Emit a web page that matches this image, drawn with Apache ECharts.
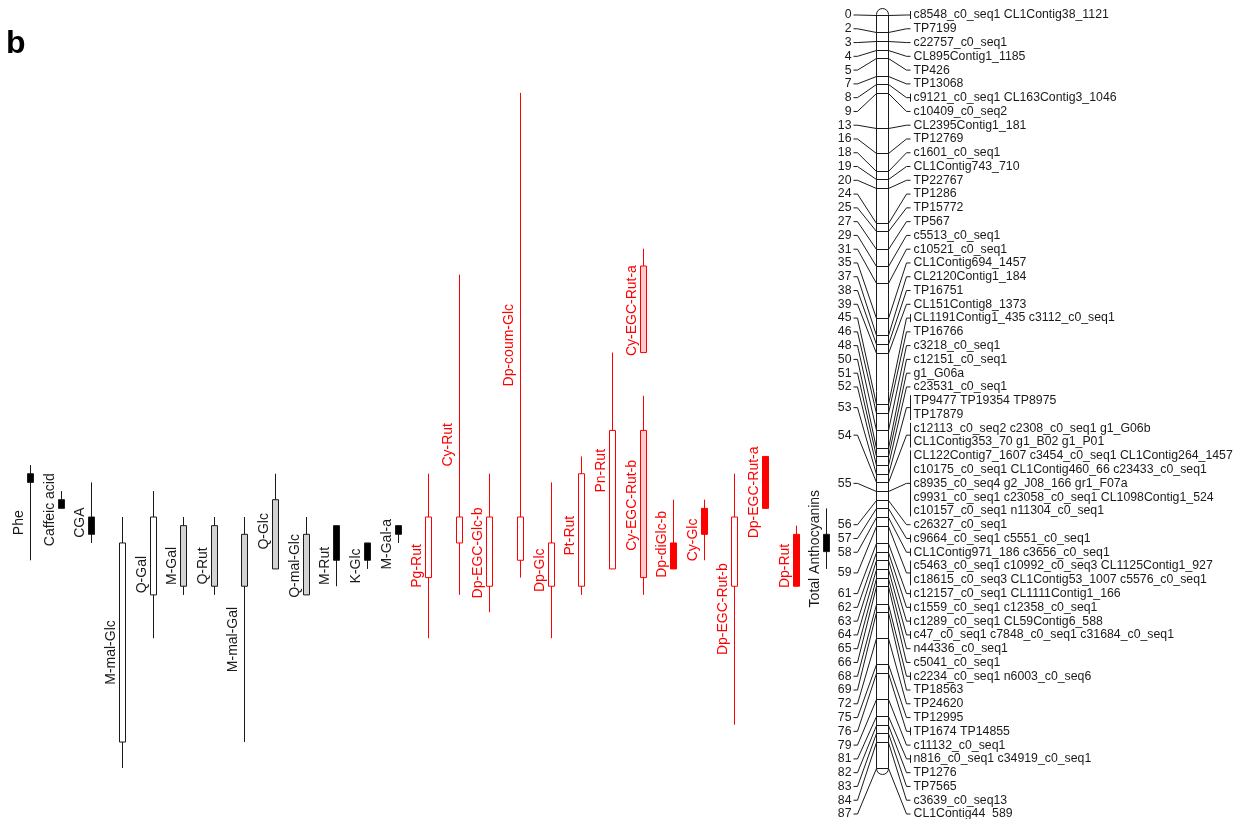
<!DOCTYPE html>
<html>
<head>
<meta charset="utf-8">
<title>QTL map</title>
<script src="https://cdn.jsdelivr.net/npm/echarts@6/dist/echarts.min.js"></script>
<style>
  html, body { margin: 0; padding: 0; background: #fff; }
  #chart { width: 1241px; height: 819px; }
</style>
</head>
<body>
<div id="chart"></div>
<script>
// ---- Linkage group: marker positions (cM) and the marker names listed at each position ----
const lociCM = [0, 2, 3, 4, 5, 7, 8, 9, 13, 16, 18, 19, 20, 24, 25, 27, 29, 31, 35, 37, 38, 39,
  45, 46, 48, 50, 51, 52, 53, 54, 55, 56, 57, 58, 59, 61, 62, 63, 64, 65, 66, 68, 69, 72, 75,
  76, 79, 81, 82, 83, 84, 87];

const lociMarkers = [
  ['c8548_c0_seq1 CL1Contig38_1121'],
  ['TP7199'],
  ['c22757_c0_seq1'],
  ['CL895Contig1_1185'],
  ['TP426'],
  ['TP13068'],
  ['c9121_c0_seq1 CL163Contig3_1046'],
  ['c10409_c0_seq2'],
  ['CL2395Contig1_181'],
  ['TP12769'],
  ['c1601_c0_seq1'],
  ['CL1Contig743_710'],
  ['TP22767'],
  ['TP1286'],
  ['TP15772'],
  ['TP567'],
  ['c5513_c0_seq1'],
  ['c10521_c0_seq1'],
  ['CL1Contig694_1457'],
  ['CL2120Contig1_184'],
  ['TP16751'],
  ['CL151Contig8_1373'],
  ['CL1191Contig1_435 c3112_c0_seq1'],
  ['TP16766'],
  ['c3218_c0_seq1'],
  ['c12151_c0_seq1'],
  ['g1_G06a'],
  ['c23531_c0_seq1'],
  ['TP9477 TP19354 TP8975', 'TP17879'],
  ['c12113_c0_seq2 c2308_c0_seq1 g1_G06b', 'CL1Contig353_70 g1_B02 g1_P01'],
  ['CL122Contig7_1607 c3454_c0_seq1 CL1Contig264_1457',
   'c10175_c0_seq1 CL1Contig460_66 c23433_c0_seq1',
   'c8935_c0_seq4 g2_J08_166 gr1_F07a',
   'c9931_c0_seq1 c23058_c0_seq1 CL1098Contig1_524',
   'c10157_c0_seq1 n11304_c0_seq1'],
  ['c26327_c0_seq1'],
  ['c9664_c0_seq1 c5551_c0_seq1'],
  ['CL1Contig971_186 c3656_c0_seq1'],
  ['c5463_c0_seq1 c10992_c0_seq3 CL1125Contig1_927',
   'c18615_c0_seq3 CL1Contig53_1007 c5576_c0_seq1'],
  ['c12157_c0_seq1 CL1111Contig1_166'],
  ['c1559_c0_seq1 c12358_c0_seq1'],
  ['c1289_c0_seq1 CL59Contig6_588'],
  ['c47_c0_seq1 c7848_c0_seq1 c31684_c0_seq1'],
  ['n44336_c0_seq1'],
  ['c5041_c0_seq1'],
  ['c2234_c0_seq1 n6003_c0_seq6'],
  ['TP18563'],
  ['TP24620'],
  ['TP12995'],
  ['TP1674 TP14855'],
  ['c11132_c0_seq1'],
  ['n816_c0_seq1 c34919_c0_seq1'],
  ['TP1276'],
  ['TP7565'],
  ['c3639_c0_seq13'],
  ['CL1Contig44_589']
];

// ---- QTL: trait names, track (column), support interval and LOD-1 interval in cM ----
const qtlNames = ['Phe', 'Caffeic acid', 'CGA', 'M-mal-Glc', 'Q-Gal', 'M-Gal', 'Q-Rut',
  'M-mal-Gal', 'Q-Glc', 'Q-mal-Glc', 'M-Rut', 'K-Glc', 'M-Gal-a', 'Pg-Rut', 'Cy-Rut',
  'Dp-EGC-Glc-b', 'Dp-coum-Glc', 'Dp-Glc', 'Pt-Rut', 'Pn-Rut', 'Cy-EGC-Rut-a', 'Cy-EGC-Rut-b',
  'Dp-diGlc-b', 'Cy-Glc', 'Dp-EGC-Rut-b', 'Dp-EGC-Rut-a', 'Dp-Rut', 'Total Anthocyanins'];
const qtlTrack = [0, 1, 2, 3, 4, 5, 6, 7, 8, 9, 10, 11, 12, 13, 14, 15, 16, 17, 18, 19, 20, 20,
  21, 22, 23, 24, 25, 26];
const qtlOuterFrom = [52, 55, 54, 58, 55, 58, 58, 58, 53, 58, 59, 61, 59, 53, 30, 53, 9, 54, 51, 39, 27, 44, 56, 56, 53, 51, 59, 57];
const qtlOuterTo   = [63, 57, 61, 87, 72, 67, 67, 84, 64, 67, 66, 64, 61, 72, 67, 69, 65, 72, 67, 64, 39, 67, 64, 63, 82, 57, 66, 64];
const qtlInnerFrom = [53, 56, 58, 61, 58, 59, 59, 60, 56, 60, 59, 61, 59, 58, 58, 58, 58, 61, 53, 48, 29, 48, 61, 57, 58, 51, 60, 60];
const qtlInnerTo   = [54, 57, 60, 84, 67, 66, 66, 66, 64, 67, 63, 63, 60, 65, 61, 66, 63, 66, 66, 64, 39, 65, 64, 60, 66, 57, 66, 62];
const qtlKind = ['black', 'black', 'black', 'white', 'white', 'gray', 'gray', 'gray', 'gray', 'gray',
  'black', 'black', 'black', 'redOpen', 'redOpen', 'redOpen', 'redOpen', 'redOpen', 'redOpen',
  'redOpen', 'pink', 'pink', 'red', 'red', 'redOpen', 'red', 'red', 'black'];

// ---- styles ----
const INK = '#1a1a1a';
const RED = '#ff0000';
const KIND_STYLE = {
  black:   { line: INK, fill: '#000000', text: INK },
  white:   { line: INK, fill: '#ffffff', text: INK },
  gray:    { line: INK, fill: '#d3d3d3', text: INK },
  redOpen: { line: RED, fill: '#ffffff', text: RED },
  pink:    { line: RED, fill: '#ffcccc', text: RED },
  red:     { line: RED, fill: RED,       text: RED }
};
const FONT = 'Arial, "Liberation Sans", sans-serif';
const NAME_SIZE = 12.3;

// ---- layout ----
const GRID_TOP = 15;
const ROWS_PX = 799;     // height of the marker-name column (first to last row)
const MAP_PX = 753;      // drawn length of the linkage group (0 to last cM)
const ROW_COUNT = lociMarkers.reduce((n, g) => n + g.length, 0);
const MAP_END = lociCM[lociCM.length - 1];
const Y_MAX = MAP_END * ROWS_PX / MAP_PX;           // cM at the bottom of the grid
const ROW_STEP = Y_MAX / (ROW_COUNT - 1);           // one name row, in cM units
const TRACK_PX = 30.63, TRACK0_PX = 30;             // column spacing
const X_MIN = -TRACK0_PX / TRACK_PX;
const X_MAX = (1241 - TRACK0_PX) / TRACK_PX;
const CHR_TRACK = 27.816;                            // column of the linkage group
const CHR_HALF = 6;

// rows of each locus group
let rowCursor = 0;
const lociData = lociCM.map((cm, i) => {
  const first = rowCursor;
  rowCursor += lociMarkers[i].length;
  return [cm, first, rowCursor - 1];
});

const qtlData = qtlNames.map((n, i) =>
  [qtlTrack[i], qtlOuterFrom[i], qtlOuterTo[i], qtlInnerFrom[i], qtlInnerTo[i]]);

function renderQtl(params, api) {
  const i = params.dataIndex;
  const s = KIND_STYLE[qtlKind[i]];
  const t = api.value(0);
  const pa = api.coord([t, api.value(1)]);
  const pb = api.coord([t, api.value(2)]);
  const pc = api.coord([t, api.value(3)]);
  const pd = api.coord([t, api.value(4)]);
  const x = Math.round(pa[0]) + 0.5;
  return {
    type: 'group',
    children: [
      { type: 'line', shape: { x1: x, y1: pa[1], x2: x, y2: pb[1] },
        style: { stroke: s.line, lineWidth: 1 } },
      { type: 'rect', shape: { x: x - 3, y: pc[1], width: 6, height: pd[1] - pc[1] },
        style: { fill: s.fill, stroke: s.line, lineWidth: 1 } },
      { type: 'text', x: x - 4, y: (pa[1] + pb[1]) / 2 + 10, rotation: Math.PI / 2,
        style: { text: qtlNames[i], fill: s.text, fontSize: 14, fontFamily: FONT,
                 align: 'center', verticalAlign: 'bottom' } }
    ]
  };
}

function renderChromosome(params, api) {
  const p0 = api.coord([api.value(0), api.value(1)]);
  const p1 = api.coord([api.value(0), api.value(2)]);
  const cx = Math.round(p0[0]) + 0.5;
  return {
    type: 'rect',
    shape: { x: cx - CHR_HALF, y: p0[1] - 6.5, width: CHR_HALF * 2, height: p1[1] - p0[1] + 13, r: CHR_HALF },
    style: { fill: '#ffffff', stroke: INK, lineWidth: 1 }
  };
}

function renderLocus(params, api) {
  const i = params.dataIndex;
  const cm = api.value(0), r0 = api.value(1), r1 = api.value(2);
  const pm = api.coord([CHR_TRACK, cm]);
  const cx = Math.round(pm[0]) + 0.5;
  const ym = Math.round(pm[1]) + 0.5;
  const yFirst = api.coord([CHR_TRACK, r0 * ROW_STEP])[1];
  const yLast = api.coord([CHR_TRACK, r1 * ROW_STEP])[1];
  const yc = (yFirst + yLast) / 2;
  const lw = { stroke: INK, lineWidth: 1, fill: null };
  const children = [
    // cross line on the linkage group
    { type: 'line', shape: { x1: cx - CHR_HALF, y1: ym, x2: cx + CHR_HALF, y2: ym }, style: lw },
    // connector to the position label
    { type: 'polyline', shape: { points: [[cx - 29, yc], [cx - 25, yc], [cx - CHR_HALF, ym]] }, style: lw },
    // connector to the marker names
    { type: 'polyline', shape: { points: [[cx + CHR_HALF, ym], [cx + 24, yc], [cx + 28, yc]] }, style: lw },
    { type: 'text', x: cx - 31, y: yc,
      style: { text: String(cm), fill: INK, fontSize: NAME_SIZE, fontFamily: FONT, align: 'right', verticalAlign: 'middle' } }
  ];
  const names = lociMarkers[i];
  if (names.length > 1) {
    children.push({ type: 'line', shape: { x1: cx + 28, y1: yFirst - 5.5, x2: cx + 28, y2: yLast + 5.5 }, style: lw });
  } else if (names[0].indexOf(' ') >= 0) {
    children.push({ type: 'line', shape: { x1: cx + 28, y1: yc - 4, x2: cx + 28, y2: yc + 4 }, style: lw });
  }
  names.forEach((n, k) => {
    const y = api.coord([CHR_TRACK, (r0 + k) * ROW_STEP])[1];
    children.push({ type: 'text', x: cx + 31, y: y,
      style: { text: n, fill: INK, fontSize: NAME_SIZE, fontFamily: FONT, align: 'left', verticalAlign: 'middle' } });
  });
  return { type: 'group', children };
}

const chart = echarts.init(document.getElementById('chart'), null, { renderer: 'canvas' });
chart.setOption({
  animation: false,
  backgroundColor: '#ffffff',
  title: {
    text: 'b', left: 6, top: 28, padding: 0,
    textStyle: { fontSize: 32, fontWeight: 900, color: '#000', fontFamily: FONT }
  },
  grid: { left: 0, right: 0, top: GRID_TOP, height: ROWS_PX },
  xAxis: { type: 'value', min: X_MIN, max: X_MAX, show: false },
  yAxis: { type: 'value', inverse: true, min: 0, max: Y_MAX, show: false },
  series: [
    { type: 'custom', name: 'QTL', clip: false, renderItem: renderQtl, data: qtlData, z: 3 },
    { type: 'custom', name: 'Linkage group', clip: false, renderItem: renderChromosome,
      data: [[CHR_TRACK, lociCM[0], MAP_END]], z: 1 },
    { type: 'custom', name: 'Markers', clip: false, renderItem: renderLocus, data: lociData, z: 2 }
  ]
});
</script>
</body>
</html>
